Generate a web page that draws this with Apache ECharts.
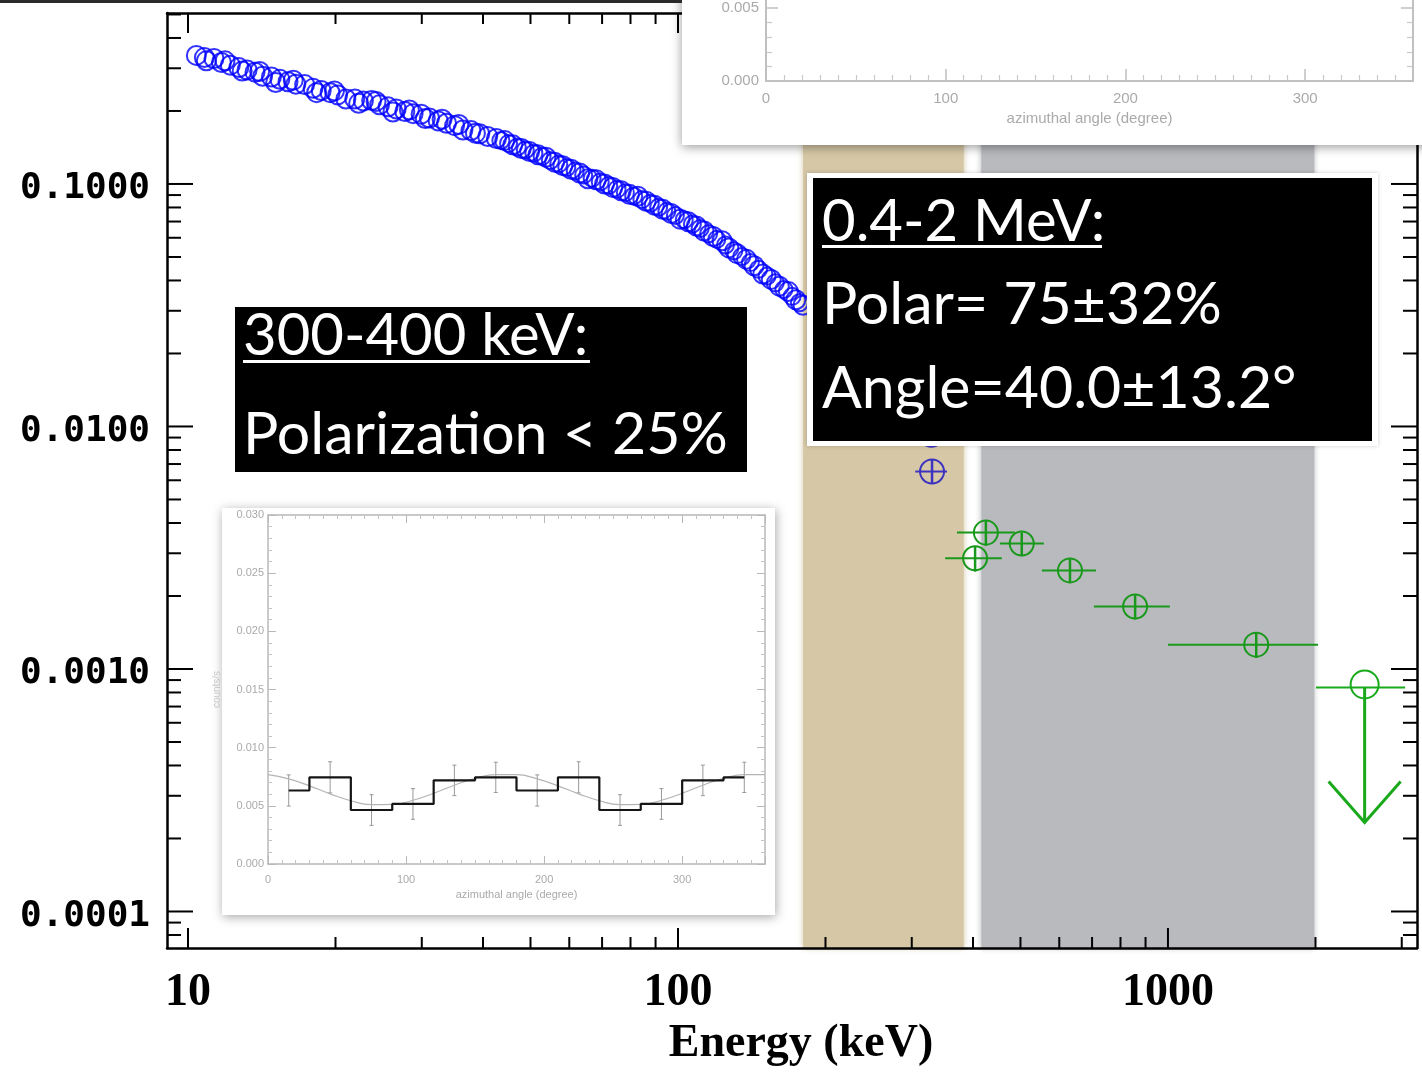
<!DOCTYPE html>
<html><head><meta charset="utf-8">
<script src="https://cdn.jsdelivr.net/npm/echarts@6/dist/echarts.min.js"></script>
<style>html,body{margin:0;padding:0;background:#fff}#c{width:1422px;height:1077px}</style>
</head><body><div id="c"></div>
<script>
// ---------------- DATA ----------------
// Broad-band spectrum (blue open circles), energy keV / flux
const spectrumEnergy = [10.4,10.8,10.9,11.3,11.7,11.9,12.2,12.7,12.9,13.2,13.7,14.0,14.2,14.8,15.1,15.4,16.0,16.4,16.6,17.3,18.0,18.3,18.7,19.5,19.9,20.2,21.0,21.9,22.3,22.8,23.7,24.2,24.6,25.6,26.2,26.6,27.7,28.3,28.8,29.9,30.5,31.1,32.4,33.0,33.7,35.0,35.7,36.4,37.8,38.6,39.4,40.9,42.6,44.3,46.0,47.9,49.8,51.8,53.8,56.0,58.2,60.5,63.0,65.5,68.1,70.8,73.6,76.6,79.6,82.8,86.1,89.5,93.1,96.8,101,105,109,113,118,123,127,132,138,143,149,155,161,168,174,180];
const spectrumFlux   = [0.339,0.332,0.322,0.329,0.317,0.322,0.309,0.302,0.292,0.295,0.289,0.291,0.278,0.276,0.262,0.270,0.264,0.268,0.258,0.257,0.248,0.238,0.243,0.238,0.242,0.233,0.224,0.224,0.215,0.220,0.221,0.219,0.212,0.208,0.198,0.204,0.199,0.202,0.195,0.194,0.186,0.187,0.182,0.185,0.178,0.174,0.176,0.167,0.166,0.162,0.161,0.157,0.154,0.151,0.145,0.140,0.136,0.132,0.129,0.123,0.119,0.115,0.111,0.105,0.104,0.100,0.0968,0.0937,0.0906,0.0890,0.0849,0.0818,0.0786,0.0756,0.0716,0.0698,0.0671,0.0640,0.0607,0.0583,0.0545,0.0516,0.0489,0.0460,0.0425,0.0404,0.0379,0.0360,0.0333,0.0316];
// Second overlapping data set (finer bins at higher energies)
const spectrumEnergy2 = [43.5,45.1,47.0,48.8,50.8,52.8,54.9,57.1,59.3,61.7,64.2,66.8,69.4,72.2,75.1,78.1,81.2,84.4,87.8,91.3,94.9,98.8,103,107,111,115.5,120,125,130,135,140.5,146,152,158,164.5,171,177];
const spectrumFlux2   = [0.151,0.147,0.142,0.138,0.134,0.130,0.125,0.121,0.117,0.113,0.109,0.1055,0.102,0.0985,0.0952,0.0921,0.0892,0.0862,0.0833,0.0802,0.0771,0.0741,0.0712,0.0684,0.0655,0.0623,0.0591,0.0560,0.0530,0.0502,0.0474,0.0445,0.0417,0.0391,0.0367,0.0344,0.0324];

// Polarimetry-band points (blue, 300-400 keV)
const bluePtE    = [330, 329];
const bluePtELo  = [305, 305];
const bluePtEHi  = [354, 354];
const bluePtF    = [0.00652, 0.00925];
const bluePtFLo  = [0.00582, 0.00826];
const bluePtFHi  = [0.00730, 0.01036];

// Green points (0.4-2 MeV)
const greenE   = [425, 404, 503, 631, 857, 1514];
const greenELo = [371, 351, 454, 553, 706, 1000];
const greenEHi = [487, 458, 558, 713, 1009, 2024];
const greenF   = [0.00365, 0.00286, 0.00329, 0.00255, 0.00181, 0.00126];
const greenFLo = [0.00322, 0.00252, 0.00292, 0.00226, 0.00160, 0.00111];
const greenFHi = [0.00408, 0.00320, 0.00366, 0.00284, 0.00202, 0.00141];

// Upper limit (green arrow)
const ulE = [2520], ulELo = [2005], ulEHi = [3048], ulF = [0.000863], ulArrowTo = [0.000233];

// Shaded energy bands (keV)
const tanBand  = [180, 383];
const greyBand = [416, 1990];

// Axis ticks
const xMajorTicks = [10, 100, 1000];
const xMinorTicks = [20,30,40,50,60,70,80,90,200,300,400,500,600,700,800,900,2000,3000];
const yMajorTicks = [0.0001, 0.001, 0.01, 0.1];
const yMinorTicks = [0.00008,0.00009,0.0002,0.0003,0.0004,0.0005,0.0006,0.0007,0.0008,0.0009,0.002,0.003,0.004,0.005,0.006,0.007,0.008,0.009,0.02,0.03,0.04,0.05,0.06,0.07,0.08,0.09,0.2,0.3,0.4,0.5];

// Inset: modulation curve (counts/s vs azimuthal angle)
const insetAngle = [15,45,75,105,135,165,195,225,255,285,315,345];
const insetRate  = [0.00632,0.00745,0.00464,0.00516,0.00719,0.00745,0.00632,0.00745,0.00464,0.00516,0.00719,0.00745];
const insetErr   = [0.00134,0.00134,0.00132,0.00132,0.00131,0.00130,0.00134,0.00134,0.00132,0.00132,0.00131,0.00130];
const fitAngle   = [0,15,30,45,60,75,90,105,120,135,150,165,180,195,210,225,240,255,270,285,300,315,330,345,360];
const fitRate    = [0.00768,0.00732,0.00672,0.00603,0.00544,0.00511,0.00512,0.00548,0.00608,0.00677,0.00736,0.00769,0.00768,0.00732,0.00672,0.00603,0.00544,0.00511,0.00512,0.00548,0.00608,0.00677,0.00736,0.00769,0.00768];

// ---------------- CHART ----------------
const X_MIN = 9.06, X_MAX = 3223, Y_MIN = 7.07e-5, Y_MAX = 0.507;
const chart = echarts.init(document.getElementById('c'), null, {renderer:'canvas', width:1422, height:1077});

function isDecade(v){ const l = Math.log10(v); return Math.abs(l - Math.round(l)) < 1e-6; }

const xTickData = xMajorTicks.map(v => [v, 0.001, 1]).concat(xMinorTicks.map(v => [v, 0.001, 0]));
const yTickData = yMajorTicks.map(v => [100, v, 1]).concat(yMinorTicks.map(v => [100, v, 0]));

function renderXTick(params, api){
  const cs = params.coordSys;
  const px = api.coord([api.value(0), 0.001])[0];
  const len = api.value(2) ? 20 : 11;
  const st = {stroke:'#000', lineWidth:2};
  return {type:'group', children:[
    {type:'line', shape:{x1:px, y1:cs.y+cs.height, x2:px, y2:cs.y+cs.height-len}, style:st},
    {type:'line', shape:{x1:px, y1:cs.y, x2:px, y2:cs.y+len}, style:st}
  ]};
}
function renderYTick(params, api){
  const cs = params.coordSys;
  const py = api.coord([100, api.value(1)])[1];
  const len = api.value(2) ? 26 : 14;
  const st = {stroke:'#000', lineWidth:2};
  return {type:'group', children:[
    {type:'line', shape:{x1:cs.x, y1:py, x2:cs.x+len, y2:py}, style:st},
    {type:'line', shape:{x1:cs.x+cs.width, y1:py, x2:cs.x+cs.width-len, y2:py}, style:st}
  ]};
}
function renderErrPoint(params, api){
  const c  = api.coord([api.value(0), api.value(3)]);
  const pl = api.coord([api.value(1), api.value(3)]);
  const ph = api.coord([api.value(2), api.value(3)]);
  const vl = api.coord([api.value(0), api.value(4)]);
  const vh = api.coord([api.value(0), api.value(5)]);
  const color = api.visual('color');
  return {type:'group', children:[
    {type:'circle', shape:{cx:c[0], cy:c[1], r:12}, style:{fill:'none', stroke:color, lineWidth:2}},
    {type:'line', shape:{x1:pl[0], y1:c[1], x2:ph[0], y2:c[1]}, style:{stroke:color, lineWidth:2}},
    {type:'line', shape:{x1:c[0], y1:vl[1], x2:c[0], y2:vh[1]}, style:{stroke:color, lineWidth:2.5}}
  ]};
}
function renderUpperLimit(params, api){
  const c  = api.coord([api.value(0), api.value(3)]);
  const pl = api.coord([api.value(1), api.value(3)]);
  const ph = api.coord([api.value(2), api.value(3)]);
  const tip = api.coord([api.value(0), api.value(4)]);
  const color = api.visual('color');
  return {type:'group', children:[
    {type:'circle', shape:{cx:c[0], cy:c[1], r:14}, style:{fill:'none', stroke:color, lineWidth:2}},
    {type:'line', shape:{x1:pl[0], y1:c[1]+3, x2:ph[0], y2:c[1]+3}, style:{stroke:color, lineWidth:2}},
    {type:'line', shape:{x1:c[0], y1:c[1]+3, x2:c[0], y2:tip[1]}, style:{stroke:color, lineWidth:3}},
    {type:'polyline', shape:{points:[[tip[0]-36, tip[1]-41],[tip[0], tip[1]],[tip[0]+36, tip[1]-41]]}, style:{fill:'none', stroke:color, lineWidth:3}}
  ]};
}
function renderInsetErr(params, api){
  const x = api.value(0), y = api.value(1), e = api.value(2);
  const lo = api.coord([x, y - e]), hi = api.coord([x, y + e]);
  const st = {stroke:'#999', lineWidth:1};
  return {type:'group', children:[
    {type:'line', shape:{x1:lo[0], y1:lo[1], x2:hi[0], y2:hi[1]}, style:st},
    {type:'line', shape:{x1:lo[0]-2, y1:lo[1], x2:lo[0]+2, y2:lo[1]}, style:st},
    {type:'line', shape:{x1:hi[0]-2, y1:hi[1], x2:hi[0]+2, y2:hi[1]}, style:st}
  ]};
}

const insetLine = {show:true, onZero:false, lineStyle:{color:'#b8b8b8', width:1.5}};
const insetTick = {show:true, inside:true, length:8, lineStyle:{color:'#b8b8b8', width:1}};
const insetMinor = (n) => ({show:true, splitNumber:n, length:4, lineStyle:{color:'#c4c4c4', width:1}});
const in2Line = {show:true, onZero:false, lineStyle:{color:'#c0c0c0', width:2}};
const in2Tick = {show:true, inside:true, length:12, lineStyle:{color:'#c0c0c0', width:1.5}};
const in2Minor = (n) => ({show:true, splitNumber:n, length:6, lineStyle:{color:'#c8c8c8', width:1.2}});

const mainLabelFont = {fontFamily:'Liberation Serif', fontWeight:'bold', fontSize:46, color:'#000'};

const option = {
  animation:false,
  backgroundColor:'#fff',
  grid:[
    {left:167, top:13, width:1250, height:935, outerBoundsMode:'none', containLabel:false},
    {left:268, top:515, width:497, height:349, outerBoundsMode:'none', containLabel:false},
    {left:766, top:-357, width:647, height:438, outerBoundsMode:'none', containLabel:false}
  ],
  xAxis:[
    {gridIndex:0, type:'log', logBase:10, min:X_MIN, max:X_MAX, position:'bottom', z:3,
     axisLine:{show:true, onZero:false, lineStyle:{color:'#000', width:2.5}}, axisTick:{show:false}, splitLine:{show:false},
     axisLabel:Object.assign({formatter:v => isDecade(v) ? String(Math.round(v)) : '', margin:22}, mainLabelFont),
     name:'Energy (keV)', nameLocation:'middle', nameGap:66, nameTextStyle:{fontFamily:'Liberation Serif', fontWeight:'bold', fontSize:46, color:'#000', padding:[0,0,0,18]}},
    {gridIndex:0, type:'log', logBase:10, min:X_MIN, max:X_MAX, position:'top', z:3,
     axisLine:{show:true, onZero:false, lineStyle:{color:'#000', width:2.5}}, axisTick:{show:false}, axisLabel:{show:false}, splitLine:{show:false}},
    {gridIndex:1, type:'value', min:0, max:360, interval:100, position:'bottom', z:12,
     axisLine:insetLine, axisTick:insetTick, minorTick:insetMinor(10), splitLine:{show:false},
     axisLabel:{color:'#aaa', fontSize:11, fontFamily:'Liberation Sans', margin:10, showMaxLabel:false},
     name:'azimuthal angle (degree)', nameLocation:'middle', nameGap:25, nameTextStyle:{color:'#aaa', fontSize:11, fontFamily:'Liberation Sans'}},
    {gridIndex:1, type:'value', min:0, max:360, interval:100, position:'top', z:12,
     axisLine:insetLine, axisTick:insetTick, minorTick:insetMinor(10), splitLine:{show:false}, axisLabel:{show:false}},
    {gridIndex:2, type:'value', min:0, max:360, interval:100, position:'bottom', z:22,
     axisLine:in2Line, axisTick:in2Tick, minorTick:in2Minor(10), splitLine:{show:false},
     axisLabel:{color:'#aaa', fontSize:15, fontFamily:'Liberation Sans', margin:10, showMaxLabel:false},
     name:'azimuthal angle (degree)', nameLocation:'middle', nameGap:30, nameTextStyle:{color:'#aaa', fontSize:15, fontFamily:'Liberation Sans'}},
    {gridIndex:2, type:'value', min:0, max:360, interval:100, position:'top', z:22,
     axisLine:in2Line, axisTick:in2Tick, minorTick:in2Minor(10), splitLine:{show:false}, axisLabel:{show:false}}
  ],
  yAxis:[
    {gridIndex:0, type:'log', logBase:10, min:Y_MIN, max:Y_MAX, position:'left', z:3,
     axisLine:{show:true, onZero:false, lineStyle:{color:'#000', width:2.5}}, axisTick:{show:false}, splitLine:{show:false},
     axisLabel:{formatter:v => isDecade(v) ? v.toFixed(4) : '', margin:17, verticalAlign:'top', lineHeight:10, fontFamily:'DejaVu Sans Mono', fontWeight:'bold', fontSize:36, color:'#000'}},
    {gridIndex:0, type:'log', logBase:10, min:Y_MIN, max:Y_MAX, position:'right', z:3,
     axisLine:{show:true, onZero:false, lineStyle:{color:'#000', width:2.5}}, axisTick:{show:false}, axisLabel:{show:false}, splitLine:{show:false}},
    {gridIndex:1, type:'value', min:0, max:0.03, interval:0.005, position:'left', z:12,
     axisLine:insetLine, axisTick:insetTick, minorTick:insetMinor(5), splitLine:{show:false},
     axisLabel:{color:'#aaa', fontSize:11, fontFamily:'Liberation Sans', margin:4, formatter:v => v.toFixed(3)},
     name:'counts/s', nameLocation:'middle', nameGap:46, nameRotate:90, nameTextStyle:{color:'#c8c8c8', fontSize:10, fontFamily:'Liberation Sans'}},
    {gridIndex:1, type:'value', min:0, max:0.03, interval:0.005, position:'right', z:12,
     axisLine:insetLine, axisTick:insetTick, minorTick:insetMinor(5), splitLine:{show:false}, axisLabel:{show:false}},
    {gridIndex:2, type:'value', min:0, max:0.03, interval:0.005, position:'left', z:22,
     axisLine:in2Line, axisTick:in2Tick, minorTick:in2Minor(5), splitLine:{show:false},
     axisLabel:{color:'#aaa', fontSize:15, fontFamily:'Liberation Sans', margin:7, formatter:v => v.toFixed(3)}},
    {gridIndex:2, type:'value', min:0, max:0.03, interval:0.005, position:'right', z:22,
     axisLine:in2Line, axisTick:in2Tick, minorTick:in2Minor(5), splitLine:{show:false}, axisLabel:{show:false}}
  ],
  series:[
    {type:'scatter', xAxisIndex:0, yAxisIndex:0, data:[], z:1, silent:true,
     markArea:{silent:true, data:[
       [{xAxis:tanBand[0], itemStyle:{color:'#d6c8a6', shadowBlur:6, shadowColor:'#d6c8a6'}}, {xAxis:tanBand[1]}],
       [{xAxis:greyBand[0], itemStyle:{color:'#b8babd', shadowBlur:6, shadowColor:'#b8babd'}}, {xAxis:greyBand[1]}]
     ]}},
    {type:'custom', xAxisIndex:0, yAxisIndex:0, data:xTickData, renderItem:renderXTick, z:4, silent:true},
    {type:'custom', xAxisIndex:0, yAxisIndex:0, data:yTickData, renderItem:renderYTick, z:4, silent:true},
    {type:'scatter', xAxisIndex:0, yAxisIndex:0, z:5, symbol:'circle', symbolSize:19,
     itemStyle:{color:'rgba(0,0,0,0)', borderColor:'#0000ff', borderWidth:2},
     data:spectrumEnergy.map((e,i) => [e, spectrumFlux[i]])},
    {type:'scatter', xAxisIndex:0, yAxisIndex:0, z:5, symbol:'circle', symbolSize:17,
     itemStyle:{color:'rgba(0,0,0,0)', borderColor:'#0000ff', borderWidth:2},
     data:spectrumEnergy2.map((e,i) => [e, spectrumFlux2[i]])},
    {type:'custom', xAxisIndex:0, yAxisIndex:0, z:6, renderItem:renderErrPoint, itemStyle:{color:'#3d33c0'},
     encode:{x:[0,1,2], y:[3,4,5]},
     data:bluePtE.map((e,i) => [e, bluePtELo[i], bluePtEHi[i], bluePtF[i], bluePtFLo[i], bluePtFHi[i]])},
    {type:'custom', xAxisIndex:0, yAxisIndex:0, z:6, renderItem:renderErrPoint, itemStyle:{color:'#19991b'},
     encode:{x:[0,1,2], y:[3,4,5]},
     data:greenE.map((e,i) => [e, greenELo[i], greenEHi[i], greenF[i], greenFLo[i], greenFHi[i]])},
    {type:'custom', xAxisIndex:0, yAxisIndex:0, z:6, renderItem:renderUpperLimit, itemStyle:{color:'#19a91b'},
     encode:{x:[0,1,2], y:[3,4]},
     data:ulE.map((e,i) => [e, ulELo[i], ulEHi[i], ulF[i], ulArrowTo[i]])},
    // inset 1
    {type:'line', xAxisIndex:2, yAxisIndex:2, z:13, smooth:true, symbol:'none',
     lineStyle:{color:'#b4b4b4', width:1.2}, data:fitAngle.map((a,i) => [a, fitRate[i]])},
    {type:'custom', xAxisIndex:2, yAxisIndex:2, z:13, renderItem:renderInsetErr,
     data:insetAngle.map((a,i) => [a, insetRate[i], insetErr[i]])},
    {type:'line', xAxisIndex:2, yAxisIndex:2, z:14, step:'middle', symbol:'none',
     lineStyle:{color:'#151515', width:2.2}, data:insetAngle.map((a,i) => [a, insetRate[i]])}
  ],
  graphic:{elements:[
    {type:'rect', z:30, shape:{x:0, y:0, width:682, height:3}, style:{fill:'#2b2b2b'}},
    {type:'rect', z:10, shape:{x:222, y:508, width:553, height:407}, style:{fill:'#fff', shadowBlur:10, shadowColor:'rgba(0,0,0,0.35)', shadowOffsetX:1, shadowOffsetY:2}},
    {type:'rect', z:10, shape:{x:235, y:307, width:512, height:165}, style:{fill:'#000'}},
    {type:'text', z:11, style:{x:243, y:336, text:'300-400 keV:', font:'58px Lato', fill:'#fff', verticalAlign:'middle', textVerticalAlign:'middle'}},
    {type:'rect', z:11, shape:{x:243, y:360, width:347, height:3}, style:{fill:'#fff'}},
    {type:'text', z:11, style:{x:243, y:435, text:'Polarization < 25%', font:'59px Lato', fill:'#fff', verticalAlign:'middle', textVerticalAlign:'middle'}},
    {type:'rect', z:10, shape:{x:807, y:173, width:571, height:273}, style:{fill:'#fff', shadowBlur:4, shadowColor:'rgba(0,0,0,0.2)'}},
    {type:'rect', z:10, shape:{x:813, y:178, width:559, height:263}, style:{fill:'#000'}},
    {type:'text', z:11, style:{x:822, y:222, text:'0.4-2 MeV:', font:'58px Lato', fill:'#fff', verticalAlign:'middle', textVerticalAlign:'middle'}},
    {type:'rect', z:11, shape:{x:822, y:245, width:280, height:3}, style:{fill:'#fff'}},
    {type:'text', z:11, style:{x:822, y:305, text:'Polar= 75±32%', font:'59px Lato', fill:'#fff', verticalAlign:'middle', textVerticalAlign:'middle'}},
    {type:'text', z:11, style:{x:822, y:389, text:'Angle=40.0±13.2°', font:'59px Lato', fill:'#fff', verticalAlign:'middle', textVerticalAlign:'middle'}},
    {type:'rect', z:20, shape:{x:682, y:-20, width:780, height:165}, style:{fill:'#fff', shadowBlur:10, shadowColor:'rgba(0,0,0,0.4)', shadowOffsetX:0, shadowOffsetY:2}}
  ]}
};
chart.setOption(option);
</script>
</body></html>
